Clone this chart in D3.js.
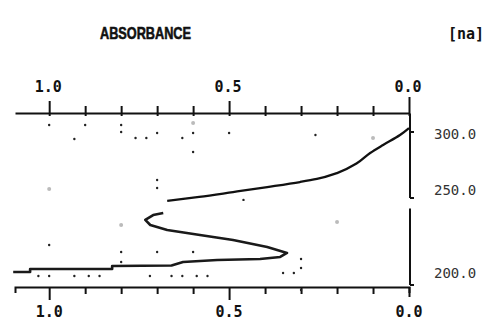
<!DOCTYPE html>
<html>
<head>
<meta charset="utf-8">
<script src="https://cdn.jsdelivr.net/npm/d3@7"></script>
<style>
  body { margin: 0; background: #fff; }
  text { fill: #111; }
</style>
</head>
<body>
<script>
"use strict";

(function() {

let width = 487;
let height = 325;

// absorbance ticks (every 0.1), labelled ones
let absTicks = [0, 0.1, 0.2, 0.3, 0.4, 0.5, 0.6, 0.7, 0.8, 0.9, 1.0];
let absLabels = [1.0, 0.5, 0.0];
// wavelength ticks (nm)
let waveTicks = [300, 250, 200];

// upper trace: [absorbance, wavelength]
let upperTrace = [
    [0.0, 303.0], [0.025, 297.7], [0.072, 290.2], [0.108, 284.1], [0.144, 276.5],
    [0.2, 268.9], [0.256, 264.4], [0.303, 262.1], [0.394, 258.3], [0.489, 254.5],
    [0.583, 250.8], [0.672, 248.3]
];

// lower trace (zig-zag with the step at the bottom)
let lowerTrace = [
    [0.683, 241.4], [0.711, 240.2], [0.733, 237.4], [0.719, 234.5], [0.672, 231.6],
    [0.581, 228.7], [0.489, 225.9], [0.394, 221.8], [0.339, 218.4], [0.358, 216.1],
    [0.414, 214.9], [0.533, 214.4], [0.628, 213.2], [0.66, 211.2], [0.825, 210.9],
    [0.825, 209.2], [1.053, 209.2], [1.053, 207.5], [1.1, 207.5]
];

// scanner specks
let specks = [
    [1.0, 305.3], [0.93, 294.7], [0.9, 305.3], [0.8, 305.3], [0.8, 300], [0.76, 295.5],
    [0.73, 295.5], [0.7, 299.2], [0.63, 295.5], [0.6, 299.2], [0.6, 284.8], [0.5, 299.2],
    [0.26, 297.7], [0.7, 263.6], [0.7, 257.6], [0.46, 248.9],
    [1.0, 223.0], [0.8, 219.0], [0.7, 219.0], [0.6, 219.0], [0.8, 213.2], [0.3, 214.9],
    [0.3, 209.8], [0.32, 206.9], [0.35, 206.9], [1.03, 205.2], [1.0, 205.2], [0.93, 205.2],
    [0.89, 205.2], [0.86, 205.2], [0.72, 205.2], [0.66, 205.2], [0.63, 205.2], [0.59, 205.2],
    [0.56, 205.2], [0.3, 197.1]
];
let faintSpecks = [
    [0.6, 306.8], [0.1, 295.5], [1.0, 256.8], [0.8, 234.5], [0.2, 236.2]
];

// wavelength axis pieces
let waveSegments = [[314, 250], [244, 200]];

let svg = d3.select('body')
    .append('svg')
    .attr('width', width)
    .attr('height', height);

let x = d3.scaleLinear()
    .domain([0, 1.095])
    .range([409, 15]);

// the scan is not linear in wavelength, two pieces
let y = d3.scaleLinear()
    .domain([200, 250, 300])
    .range([285, 198, 132]);

let fmt = d3.format('.1f');
let isMajor = function(d) { return absLabels.indexOf(d) >= 0; };

// top axis
let topAxis = svg.append('g')
    .attr('transform', 'translate(0,113)')
    .call(d3.axisTop(x).tickValues(absTicks).tickSize(7).tickSizeOuter(0).tickFormat(''));
topAxis.selectAll('.tick line')
    .attr('y1', 3)
    .attr('y2', function(d) { return d === 0 ? -16 : (isMajor(d) ? -12 : -7); });

// bottom axis
let bottomAxis = svg.append('g')
    .attr('transform', 'translate(0,287)')
    .call(d3.axisBottom(x).tickValues(absTicks).tickSize(7).tickSizeOuter(6).tickFormat(''));
bottomAxis.selectAll('.tick line')
    .attr('y2', function(d) { return d === 0 ? 10 : (isMajor(d) ? 13 : 7); });

svg.selectAll('.domain, .tick line')
    .attr('stroke', '#111')
    .attr('stroke-width', 2);

svg.selectAll('.toplab')
    .data(absLabels)
    .enter()
    .append('text')
    .attr('class', 'toplab')
    .attr('x', function(d) { return x(d) - 1; })
    .attr('y', 92)
    .attr('text-anchor', 'middle')
    .style('font', 'bold 15px "DejaVu Sans Mono", monospace')
    .text(fmt);

svg.selectAll('.botlab')
    .data(absLabels)
    .enter()
    .append('text')
    .attr('class', 'botlab')
    .attr('x', function(d) { return x(d); })
    .attr('y', 317)
    .attr('text-anchor', 'middle')
    .style('font', 'bold 15px "DejaVu Sans Mono", monospace')
    .text(fmt);

// wavelength axis (right side)
let xr = x(0) + 1;
svg.selectAll('.wseg')
    .data(waveSegments)
    .enter()
    .append('line')
    .attr('class', 'wseg')
    .attr('x1', xr).attr('x2', xr)
    .attr('y1', function(d) { return y(d[0]); })
    .attr('y2', function(d) { return y(d[1]); })
    .attr('stroke', '#111')
    .attr('stroke-width', 2);

svg.selectAll('.wtick')
    .data(waveTicks)
    .enter()
    .append('line')
    .attr('class', 'wtick')
    .attr('x1', xr).attr('x2', xr + 4)
    .attr('y1', function(d) { return y(d); })
    .attr('y2', function(d) { return y(d); })
    .attr('stroke', '#111')
    .attr('stroke-width', 2);

let waveLabelShift = { 300: 7, 250: -3, 200: -7 };
svg.selectAll('.wlab')
    .data(waveTicks)
    .enter()
    .append('text')
    .attr('class', 'wlab')
    .attr('x', 434)
    .attr('y', function(d) { return y(d) + waveLabelShift[d]; })
    .style('font', '14px "DejaVu Sans Mono", monospace')
    .style('fill', '#333')
    .text(fmt);

// titles
svg.append('text')
    .attr('x', 100)
    .attr('y', 39)
    .attr('textLength', 91)
    .attr('lengthAdjust', 'spacingAndGlyphs')
    .style('font', '900 17px "Liberation Sans Narrow", "Liberation Sans", sans-serif')
    .style('stroke', '#111')
    .style('stroke-width', 0.6)
    .text('ABSORBANCE');

svg.append('text')
    .attr('x', 448)
    .attr('y', 39)
    .style('font', 'bold 15px "DejaVu Sans Mono", monospace')
    .text('[na]');

// traces
let line = d3.line()
    .x(function(d) { return x(d[0]); })
    .y(function(d) { return y(d[1]); });

svg.append('path')
    .datum(upperTrace)
    .attr('d', line.curve(d3.curveMonotoneY))
    .attr('fill', 'none')
    .attr('stroke', '#111')
    .attr('stroke-width', 2.3);

svg.append('path')
    .datum(lowerTrace)
    .attr('d', line.curve(d3.curveLinear))
    .attr('fill', 'none')
    .attr('stroke', '#1a1a1a')
    .attr('stroke-width', 2.6)
    .attr('stroke-linejoin', 'round');

svg.selectAll('.speck')
    .data(specks)
    .enter()
    .append('circle')
    .attr('class', 'speck')
    .attr('cx', function(d) { return x(d[0]); })
    .attr('cy', function(d) { return y(d[1]); })
    .attr('r', 1.2)
    .attr('fill', '#222');

svg.selectAll('.faint')
    .data(faintSpecks)
    .enter()
    .append('circle')
    .attr('class', 'faint')
    .attr('cx', function(d) { return x(d[0]); })
    .attr('cy', function(d) { return y(d[1]); })
    .attr('r', 2)
    .attr('fill', '#bbb');

})();
</script>
</body>
</html>
